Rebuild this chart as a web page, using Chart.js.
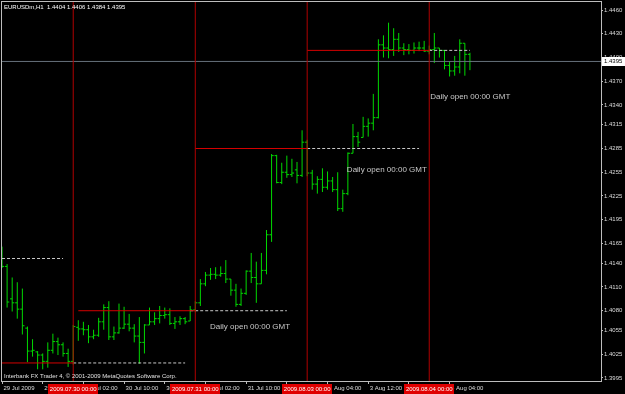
<!DOCTYPE html>
<html><head><meta charset="utf-8">
<script src="https://cdn.jsdelivr.net/npm/chart.js@4/dist/chart.umd.min.js"></script>
<style>html,body{margin:0;padding:0;background:#000;}canvas{display:block;}</style>
</head><body>
<canvas id="c" width="625" height="394"></canvas>
<script>
// ---- data (EURUSDm H1, bar 0 = 29 Jul 2009 10:00) ----
const symbolTitle = 'EURUSDm,H1  1.4404 1.4406 1.4384 1.4395';
const copyrightText = 'Interbank FX Trader 4, \u00a9 2001-2009 MetaQuotes Software Corp.';
const opens = [1.4159,1.4136,1.4095,1.4090,1.4082,1.4058,1.4029,1.4028,1.4024,1.4016,
  1.4030,1.4041,1.4037,1.4026,1.4016,1.4059,1.4057,1.4056,1.4047,1.4049,
  1.4066,1.4084,1.4047,1.4052,1.4058,1.4063,1.4058,1.4048,1.4040,1.4062,
  1.4066,1.4070,1.4074,1.4075,1.4064,1.4066,1.4070,1.4067,1.4081,1.4090,
  1.4114,1.4125,1.4126,1.4125,1.4127,1.4120,1.4106,1.4088,1.4102,1.4130,
  1.4122,1.4114,1.4131,1.4176,1.4276,1.4242,1.4255,1.4252,1.4258,1.4251,
  1.4293,1.4254,1.4240,1.4246,1.4236,1.4244,1.4233,1.4209,1.4228,1.4279,
  1.4300,1.4299,1.4313,1.4317,1.4324,1.4416,1.4412,1.4410,1.4423,1.4412,
  1.4410,1.4409,1.4412,1.4412,1.4408,1.4410,1.4412,1.4409,1.4390,1.4383,
  1.4388,1.4418,1.4404];
const highs = [1.4161,1.4139,1.4122,1.4116,1.4108,1.4060,1.4044,1.4029,1.4026,1.4040,
  1.4051,1.4046,1.4040,1.4032,1.4062,1.4068,1.4066,1.4062,1.4056,1.4071,
  1.4088,1.4092,1.4060,1.4089,1.4085,1.4076,1.4063,1.4072,1.4063,1.4084,
  1.4078,1.4086,1.4084,1.4083,1.4072,1.4073,1.4072,1.4086,1.4092,1.4120,
  1.4129,1.4134,1.4135,1.4136,1.4144,1.4120,1.4114,1.4108,1.4131,1.4153,
  1.4142,1.4153,1.4182,1.4278,1.4277,1.4267,1.4276,1.4272,1.4268,1.4308,
  1.4296,1.4258,1.4250,1.4260,1.4256,1.4249,1.4255,1.4233,1.4280,1.4316,
  1.4306,1.4325,1.4323,1.4354,1.4423,1.4428,1.4444,1.4437,1.4431,1.4418,
  1.4417,1.4419,1.4420,1.4421,1.4415,1.4431,1.4412,1.4409,1.4395,1.4402,
  1.4423,1.4418,1.4406];
const lows = [1.4134,1.4084,1.4079,1.4070,1.4050,1.4015,1.4022,1.4006,1.4006,1.4008,
  1.4026,1.4024,1.4022,1.4009,1.4012,1.4042,1.4049,1.4039,1.4044,1.4047,
  1.4056,1.4043,1.4043,1.4051,1.4057,1.4054,1.4040,1.4013,1.4026,1.4062,
  1.4062,1.4064,1.4070,1.4062,1.4057,1.4062,1.4063,1.4067,1.4078,1.4086,
  1.4111,1.4119,1.4120,1.4123,1.4115,1.4099,1.4085,1.4086,1.4100,1.4115,
  1.4090,1.4114,1.4126,1.4167,1.4241,1.4240,1.4248,1.4249,1.4241,1.4249,
  1.4250,1.4233,1.4228,1.4230,1.4233,1.4230,1.4206,1.4205,1.4226,1.4279,
  1.4287,1.4299,1.4300,1.4308,1.4323,1.4400,1.4399,1.4402,1.4407,1.4403,
  1.4404,1.4405,1.4408,1.4407,1.4404,1.4393,1.4400,1.4385,1.4376,1.4377,
  1.4380,1.4377,1.4384];
const closes = [1.4136,1.4091,1.4090,1.4082,1.4061,1.4029,1.4030,1.4024,1.4016,1.4030,
  1.4041,1.4037,1.4026,1.4016,1.4060,1.4057,1.4056,1.4047,1.4049,1.4066,
  1.4084,1.4047,1.4052,1.4058,1.4063,1.4058,1.4048,1.4040,1.4062,1.4066,
  1.4070,1.4074,1.4075,1.4064,1.4066,1.4070,1.4066,1.4081,1.4090,1.4114,
  1.4125,1.4126,1.4125,1.4127,1.4120,1.4106,1.4088,1.4102,1.4130,1.4122,
  1.4114,1.4131,1.4176,1.4276,1.4242,1.4255,1.4252,1.4254,1.4251,1.4293,
  1.4254,1.4240,1.4246,1.4236,1.4244,1.4233,1.4209,1.4228,1.4279,1.4300,
  1.4293,1.4313,1.4317,1.4324,1.4416,1.4412,1.4410,1.4423,1.4412,1.4410,
  1.4409,1.4412,1.4412,1.4408,1.4410,1.4412,1.4409,1.4390,1.4383,1.4388,
  1.4418,1.4404,1.4395];

const xTickIndex = [0,8,16,24,32,40,48,56,64,72,80,88];
const xTickLabels = ['29 Jul 2009','29 Jul 18:00','30 Jul 02:00','30 Jul 10:00','30 Jul 18:00',
  '31 Jul 02:00','31 Jul 10:00','31 Jul 18:00','3 Aug 04:00','3 Aug 12:00','3 Aug 20:00','4 Aug 04:00'];
const yTicks = [1.4460,1.4430,1.4400,1.4370,1.4340,1.4315,1.4285,1.4255,1.4225,1.4195,
  1.4165,1.4140,1.4110,1.4080,1.4055,1.4025,1.3995];

const daySeparatorIndex = [14,38,60,84];
const daySeparatorLabels = ['2009.07.30 00:00','2009.07.31 00:00','2009.08.03 00:00','2009.08.04 00:00'];

const dailyOpenLevel = [1.4014,1.4080,1.4285,1.4409];
const dailyOpenFrom = [0,15,38,60];
const dailyOpenTo = [14,38,60,84];
const prevOpenLevel = [1.4146,1.4014,1.4080,1.4285,1.4409];
const prevOpenFrom = [0,14,37,60,84];
const prevOpenTo = [12,36,56,82,92];

const noteText = 'Daily open 00:00 GMT';
const noteIndex = [40.9,67.8,84.2];
const noteLevel = [1.4060,1.4258,1.4350];

const lastPrice = closes[closes.length-1];
const xMin = -0.2, xMax = 117.77;
const yMin = 1.39912, yMax = 1.44714;

// ---- build datasets ----
const hlData=[], openData=[], closeData=[];
opens.forEach((o,i)=>{
  hlData.push({x:i,y:lows[i]},{x:i,y:highs[i]},{x:i,y:null});
  openData.push({x:i-0.42,y:o},{x:i,y:o},{x:i,y:null});
  closeData.push({x:i,y:closes[i]},{x:i+0.42,y:closes[i]},{x:i,y:null});
});
const sepData=[];
daySeparatorIndex.forEach(d=>sepData.push({x:d,y:yMin},{x:d,y:yMax},{x:d,y:null}));
const redData=[];
dailyOpenLevel.forEach((v,k)=>redData.push({x:dailyOpenFrom[k],y:v},{x:dailyOpenTo[k],y:v},{x:dailyOpenTo[k],y:null}));
const dashData=[];
prevOpenLevel.forEach((v,k)=>dashData.push({x:prevOpenFrom[k],y:v},{x:prevOpenTo[k],y:v},{x:prevOpenTo[k],y:null}));
const bidData=[{x:xMin,y:lastPrice},{x:xMax,y:lastPrice}];

const FONT = 'Liberation Sans, Arial, sans-serif';
const GREEN = '#00d800';
function ds(data,color,extra){
  return Object.assign({type:'line',data,borderColor:color,borderWidth:1,pointRadius:0,pointHoverRadius:0,
    fill:false,tension:0,spanGaps:false},extra||{});
}

const overlay = {
  id:'overlay',
  beforeDraw(chart){
    const c=chart.ctx; c.save(); c.fillStyle='#000'; c.fillRect(0,0,chart.width,chart.height); c.restore();
  },
  afterDraw(chart){
    const c=chart.ctx, ca=chart.chartArea, xs=chart.scales.x, ys=chart.scales.y;
    c.save();
    // frame
    c.strokeStyle='#bdbdbd'; c.lineWidth=1;
    c.strokeRect(ca.left+0.5, ca.top+0.5, ca.right-ca.left, ca.bottom-ca.top);
    // title & copyright
    c.font='6px '+FONT; c.textBaseline='middle'; c.textAlign='left';
    c.fillStyle='#ffffff'; c.fillText(symbolTitle, 4, 7);
    c.fillStyle='#e0e0e0'; c.fillText(copyrightText, 4, 376);
    // notes
    c.font='8px '+FONT; c.fillStyle='#c8c8c8';
    noteIndex.forEach((n,k)=>c.fillText(noteText, xs.getPixelForValue(n), ys.getPixelForValue(noteLevel[k])));
    // day separator labels on time axis
    c.font='6px '+FONT; c.textAlign='center';
    daySeparatorIndex.forEach((d,k)=>{
      const px=xs.getPixelForValue(d), w=c.measureText(daySeparatorLabels[k]).width+3;
      c.fillStyle='#e00000'; c.fillRect(Math.round(px-w/2), ca.bottom+3, Math.round(w), 10);
      c.fillStyle='#ffffff'; c.fillText(daySeparatorLabels[k], px, ca.bottom+8);
    });
    // current price box
    const py=ys.getPixelForValue(lastPrice);
    c.fillStyle='#ffffff'; c.fillRect(ca.right+1, Math.round(py-4.5), 24, 9);
    c.fillStyle='#000000'; c.textAlign='left'; c.fillText(lastPrice.toFixed(4), ca.right+3, py);
    c.restore();
  }
};

new Chart(document.getElementById('c'), {
  type:'line',
  data:{datasets:[
    ds(sepData,'#b00000'),
    ds(bidData,'#65707a'),
    ds(redData,'#d40000'),
    ds(dashData,'#c8c8c8',{borderDash:[3,2]}),
    ds(hlData,GREEN),
    ds(openData,GREEN),
    ds(closeData,GREEN)
  ]},
  options:{
    responsive:false, animation:false, devicePixelRatio:1,
    layout:{padding:{left:1,top:1,right:0,bottom:0}},
    plugins:{legend:{display:false},tooltip:{enabled:false}},
    events:[],
    scales:{
      x:{type:'linear',position:'bottom',min:xMin,max:xMax,
        grid:{drawOnChartArea:false,drawTicks:true,tickLength:3,color:'#bdbdbd'},
        border:{display:false},
        ticks:{autoSkip:false,maxRotation:0,minRotation:0,align:'start',labelOffset:1.5,padding:1,
          color:'#dcdcdc',font:{family:FONT,size:6},callback:(v,i)=>xTickLabels[i]},
        afterBuildTicks:s=>{s.ticks=xTickIndex.map(v=>({value:v}));},
        afterFit:s=>{s.height=13;s.paddingLeft=0;s.paddingRight=0;}
      },
      y:{type:'linear',position:'right',min:yMin,max:yMax,
        grid:{drawOnChartArea:false,drawTicks:true,tickLength:2,color:'#bdbdbd'},
        border:{display:false},
        ticks:{color:'#dcdcdc',font:{family:FONT,size:6},padding:1,callback:v=>Number(v).toFixed(4)},
        afterBuildTicks:s=>{s.ticks=yTicks.map(v=>({value:v}));},
        afterFit:s=>{s.width=24;s.paddingTop=0;s.paddingBottom=0;}
      }
    }
  },
  plugins:[overlay]
});
</script>
</body></html>
